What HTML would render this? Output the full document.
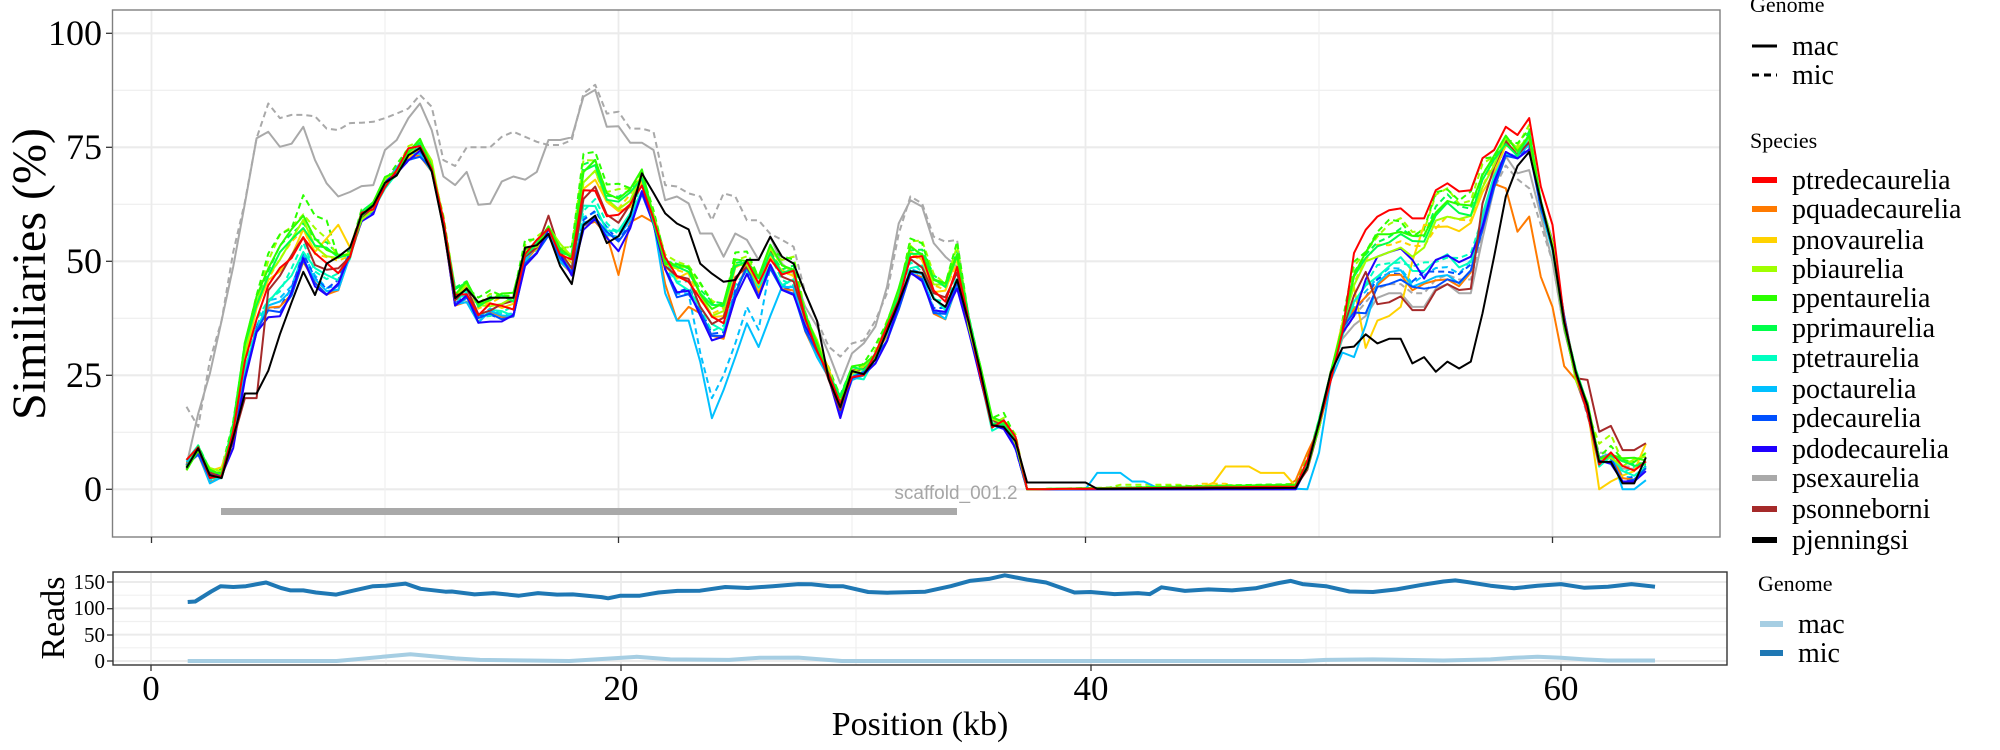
<!DOCTYPE html>
<html><head><meta charset="utf-8">
<style>
html,body{margin:0;padding:0;background:#fff;}
svg{display:block;}
text{font-family:"Liberation Serif",serif;fill:#000;}
</style></head>
<body>
<svg id="s" width="2000" height="750" viewBox="0 0 2000 750" xmlns="http://www.w3.org/2000/svg">
<rect width="2000" height="750" fill="#fff"/>
<g id="grid"></g>
<g id="series"></g>
<rect x="221" y="508" width="736" height="7" fill="#a9a9a9"/>
<text x="956" y="499" text-anchor="middle" style="font-family:'Liberation Sans',sans-serif;font-size:19px;fill:#a6a6a6">scaffold_001.2</text>
<rect x="112.5" y="10" width="1607.5" height="527" fill="none" stroke="#7f7f7f" stroke-width="1.4"/>
<g stroke="#333" stroke-width="1.3">
<line x1="106" x2="112" y1="33.3" y2="33.3"/><line x1="106" x2="112" y1="147.3" y2="147.3"/>
<line x1="106" x2="112" y1="261.3" y2="261.3"/><line x1="106" x2="112" y1="375.3" y2="375.3"/>
<line x1="106" x2="112" y1="489.3" y2="489.3"/>
<line x1="151.5" x2="151.5" y1="537" y2="543"/><line x1="618.5" x2="618.5" y1="537" y2="543"/>
<line x1="1085.5" x2="1085.5" y1="537" y2="543"/><line x1="1552.5" x2="1552.5" y1="537" y2="543"/>
</g>
<g style="font-family:'Liberation Serif',serif;font-size:36px" text-anchor="end">
<text x="102" y="45">100</text><text x="102" y="159">75</text><text x="102" y="273">50</text>
<text x="102" y="387">25</text><text x="102" y="501">0</text>
</g>
<text transform="translate(45,274) rotate(-90)" text-anchor="middle" style="font-family:'Liberation Serif',serif;font-size:48px">Similiaries (%)</text>

<!-- bottom panel -->
<g id="bgrid"></g>
<g id="bseries"></g>
<rect x="113" y="572" width="1614" height="93" fill="none" stroke="#333" stroke-width="1.4"/>
<g stroke="#333" stroke-width="1.3">
<line x1="107" x2="113" y1="582" y2="582"/><line x1="107" x2="113" y1="608.7" y2="608.7"/>
<line x1="107" x2="113" y1="635" y2="635"/><line x1="107" x2="113" y1="661" y2="661"/>
<line x1="151" x2="151" y1="665" y2="671"/><line x1="621" x2="621" y1="665" y2="671"/>
<line x1="1091" x2="1091" y1="665" y2="671"/><line x1="1561" x2="1561" y1="665" y2="671"/>
</g>
<g style="font-family:'Liberation Serif',serif;font-size:21px" text-anchor="end">
<text x="105" y="589">150</text><text x="105" y="615">100</text><text x="105" y="642">50</text><text x="105" y="668">0</text>
</g>
<text transform="translate(64,618) rotate(-90)" text-anchor="middle" style="font-family:'Liberation Serif',serif;font-size:34px">Reads</text>
<g style="font-family:'Liberation Serif',serif;font-size:35px" text-anchor="middle">
<text x="151" y="700">0</text><text x="621" y="700">20</text><text x="1091" y="700">40</text><text x="1561" y="700">60</text>
</g>
<text x="920" y="735" text-anchor="middle" style="font-family:'Liberation Serif',serif;font-size:34px">Position (kb)</text>

<!-- legends -->
<text x="1750" y="12" style="font-size:22px">Genome</text>
<line x1="1752" x2="1777" y1="46" y2="46" stroke="#000" stroke-width="3"/>
<line x1="1752" x2="1777" y1="75" y2="75" stroke="#000" stroke-width="3" stroke-dasharray="7,5"/>
<g style="font-size:28px"><text x="1792" y="55">mac</text><text x="1792" y="84">mic</text></g>
<text x="1750" y="148" style="font-size:22px">Species</text>
<g id="leg" style="font-size:28px"></g>
<text x="1758" y="591" style="font-size:22px">Genome</text>
<line x1="1760" x2="1783" y1="624" y2="624" stroke="#a6cee3" stroke-width="6"/>
<line x1="1760" x2="1783" y1="653" y2="653" stroke="#1f78b4" stroke-width="6"/>
<g style="font-size:28px"><text x="1798" y="633">mac</text><text x="1798" y="662">mic</text></g>
</svg>
<script>
(function(){
var NS="http://www.w3.org/2000/svg";
function el(p,t,a){var e=document.createElementNS(NS,t);for(var k in a)e.setAttribute(k,a[k]);p.appendChild(e);return e;}
var g=document.getElementById('grid'),sg=document.getElementById('series');
function X(k){return 151.5+23.35*k;} function Y(v){return 489.3-4.56*v;}
[12.5,37.5,62.5,87.5].forEach(function(v){el(g,'line',{x1:112.5,x2:1720,y1:Y(v),y2:Y(v),stroke:'#f0f0f0','stroke-width':1.4});});
[0,25,50,75,100].forEach(function(v){el(g,'line',{x1:112.5,x2:1720,y1:Y(v),y2:Y(v),stroke:'#ebebeb','stroke-width':2.2});});
[10,30,50].forEach(function(k){el(g,'line',{x1:X(k),x2:X(k),y1:10,y2:537,stroke:'#f0f0f0','stroke-width':1.2});});
[0,20,40,60].forEach(function(k){el(g,'line',{x1:X(k),x2:X(k),y1:10,y2:537,stroke:'#ebebeb','stroke-width':1.8});});
var bg=document.getElementById('bgrid');
function Xb(k){return 151+23.5*k;} function Yb(r){return 661-0.5267*r;}
[25,75,125].forEach(function(r){el(bg,'line',{x1:113,x2:1727,y1:Yb(r),y2:Yb(r),stroke:'#f0f0f0','stroke-width':1.2});});
[0,50,100,150].forEach(function(r){el(bg,'line',{x1:113,x2:1727,y1:Yb(r),y2:Yb(r),stroke:'#ebebeb','stroke-width':2});});
[10,30,50].forEach(function(k){el(bg,'line',{x1:Xb(k),x2:Xb(k),y1:572,y2:665,stroke:'#f0f0f0','stroke-width':1.2});});
[0,20,40,60].forEach(function(k){el(bg,'line',{x1:Xb(k),x2:Xb(k),y1:572,y2:665,stroke:'#ebebeb','stroke-width':1.8});});

var KB=[];for(var k=1.5;k<=64.001;k+=0.5)KB.push(Math.round(k*2)/2);
function interp(pts){return KB.map(function(k){
 if(k<=pts[0][0])return pts[0][1];
 for(var i=1;i<pts.length;i++){if(k<=pts[i][0]){var a=pts[i-1],b=pts[i];return a[1]+(b[1]-a[1])*(k-a[0])/(b[0]-a[0]);}}
 return pts[pts.length-1][1];});}
var L=interp([[1.5,5.3],[2,8.6],[2.5,2.4],[3,2.4],[3.5,10],[4,24.7],[4.5,34],[5,38],[5.5,39],[6,43],[6.5,49.5],[7,44.4],[7.5,43],[8,44.4],[8.5,51],[9,59.8],[9.5,61.2],[10,67],[10.5,69.3],[11,73],[11.5,74],[12,70],[12.5,57.6],[13,40.8],[13.5,42],[14,36],[14.5,37.8],[15,37.8],[15.5,37.8],[16,48.8],[16.5,52.5],[17,56.9],[17.5,50.3],[18,46.6],[18.5,57.6],[19,59],[19.5,54.7],[20,53.2],[20.5,58.3],[21,64.9],[21.5,57.6],[22,48.8],[22.5,43],[23,42.2],[23.5,37.8],[24,33.5],[24.5,33.5],[25,41.5],[25.5,48.1],[26,43],[26.5,48.8],[27,43],[27.5,43],[28,35.7],[28.5,29.8],[29,24],[29.5,16.6],[30,24.7],[30.5,24.7],[31,28.3],[31.5,33.5],[32,40],[32.5,46.6],[33,45.9],[33.5,39.3],[34,37.8],[34.5,43.7],[35,35.7],[35.5,24.7],[36,13.7],[36.5,13.7],[37,10],[37.5,0],[49,0],[49.5,5],[50,14],[50.5,25],[51,34],[51.5,38],[52,42],[52.5,44.4],[53,45.5],[53.5,46.5],[54,44.4],[54.5,45],[55,44.4],[55.5,45.5],[56,44.4],[56.5,46],[57,56],[57.5,67],[58,73.3],[58.5,72],[59,75],[59.5,62.7],[60,53.2],[60.5,37],[61,25],[61.5,17.4],[62,6],[62.5,6.5],[63,2.5],[63.5,2.5],[64,4]]);
var U=interp([[1.5,5.3],[2,8.6],[2.5,4],[3,4],[3.5,13.7],[4,31.3],[4.5,41.5],[5,48.8],[5.5,53.2],[6,56],[6.5,59.4],[7,55],[7.5,53],[8,51],[8.5,52],[9,60.5],[9.5,62],[10,67.5],[10.5,70],[11,74],[11.5,76],[12,71],[12.5,59],[13,43],[13.5,45],[14,41],[14.5,42],[15,42],[15.5,42],[16,53],[16.5,54],[17,57],[17.5,53],[18,52],[18.5,70],[19,71.5],[19.5,65],[20,64.2],[20.5,65],[21,69],[21.5,60],[22,50],[22.5,48.8],[23,48.8],[23.5,44],[24,40],[24.5,40],[25,50.3],[25.5,50.5],[26,45.9],[26.5,52.5],[27,49.5],[27.5,49],[28,38],[28.5,32],[29,26],[29.5,19.6],[30,26],[30.5,27],[31,30],[31.5,36],[32,43],[32.5,53.6],[33,52.5],[33.5,45.9],[34,45],[34.5,52.5],[35,37],[35.5,26],[36,15.2],[36.5,15.2],[37,11],[37.5,0],[49,1],[49.5,6],[50,14],[50.5,25],[51,36],[51.5,47.4],[52,50.9],[52.5,55],[53,56.5],[53.5,56.9],[54,55],[54.5,56],[55,62],[55.5,63.4],[56,61.6],[56.5,62.3],[57,69.3],[57.5,72.2],[58,76.6],[58.5,74.7],[59,78.2],[59.5,62.7],[60,53.2],[60.5,37],[61,25],[61.5,18],[62,6.5],[62.5,8],[63,6],[63.5,6],[64,7]]);
function make(t,seed,ov,amp){
 amp=amp===undefined?0.9:amp;
 var a=KB.map(function(k,i){var v=L[i]+(U[i]-L[i])*t;
   if(L[i]===0&&U[i]<=1)return Math.max(0,v);
   v+=amp*Math.sin(i*1.7+seed)+amp*0.5*Math.sin(i*0.6+seed*2);return Math.max(0,v);});
 if(ov){ov.forEach(function(p){var i=KB.indexOf(p[0]);if(i>=0)a[i]=p[1];});}
 return a;}
function draw(arr,color,dash,w){
 var pts=arr.map(function(v,i){return X(KB[i]).toFixed(1)+','+Y(v).toFixed(1);}).join(' ');
 var a={points:pts,fill:'none',stroke:color,'stroke-width':w||2,'stroke-linejoin':'round'};
 if(dash)a['stroke-dasharray']='6,4';
 el(sg,'polyline',a);}

var gray='#a9a9a9';
var graySolid=interp([[1.5,5.3],[2,16.6],[2.5,25.4],[3,37],[3.5,48.8],[4,62.7],[4.5,77],[5,78.4],[5.5,75.1],[6,75.8],[6.5,79.5],[7,72.2],[7.5,67.1],[8,64.2],[8.5,65.2],[9,66.5],[9.5,66.7],[10,74.4],[10.5,76.6],[11,81.4],[11.5,84.6],[12,78.8],[12.5,68.6],[13,66.7],[13.5,69.6],[14,62.4],[14.5,62.6],[15,67.5],[15.5,68.6],[16,67.9],[16.5,69.6],[17,76.6],[17.5,76.6],[18,77.2],[18.5,86.1],[19,87.6],[19.5,79.5],[20,79.6],[20.5,76],[21,76],[21.5,74.4],[22,63.4],[22.5,64.2],[23,62.7],[23.5,56.1],[24,56.1],[24.5,51],[25,56.1],[25.5,54.7],[26,50.3],[26.5,55.4],[27,49.5],[27.5,47.3],[28,40],[28.5,35.7],[29,29.8],[29.5,23.2],[30,29.8],[30.5,32],[31,35.7],[31.5,44.4],[32,58.3],[32.5,63.4],[33,62],[33.5,54],[34,51],[34.5,48.8],[35,36],[35.5,25],[36,14],[36.5,14],[37,10],[37.5,0],[49,0],[49.5,5],[50,14],[50.5,25],[51,33],[51.5,36],[52,38],[52.5,42],[53,43],[53.5,43],[54,40],[54.5,40],[55,44],[55.5,45],[56,43],[56.5,43],[57,55],[57.5,66],[58,73],[58.5,69.3],[59,70],[59.5,60],[60,50],[60.5,35],[61,25],[61.5,17],[62,7],[62.5,7],[63,4.5],[63.5,4.5],[64,6]]);
var grayDash=interp([[1.5,18.1],[2,13.7],[2.5,28.3],[3,37],[3.5,52],[4,63],[4.5,77],[5,84.6],[5.5,81.4],[6,82.1],[6.5,82.1],[7,81.8],[7.5,79.1],[8,78.8],[8.5,80.3],[9,80.4],[9.5,80.6],[10,81.4],[10.5,82.4],[11,83.5],[11.5,86.5],[12,83.9],[12.5,72.2],[13,70.9],[13.5,75],[14,75],[14.5,75],[15,77.3],[15.5,78.4],[16,77.3],[16.5,76.2],[17,75.5],[17.5,75.5],[18,76.6],[18.5,86.8],[19,88.7],[19.5,82.4],[20,82.8],[20.5,79.1],[21,79.1],[21.5,78.4],[22,66.7],[22.5,66.4],[23,64.9],[23.5,64.2],[24,59],[24.5,64.9],[25,64.2],[25.5,59],[26,59],[26.5,56],[27,54.7],[27.5,53.2],[28,43],[28.5,37],[29,31.3],[29.5,29.1],[30,32],[30.5,32.7],[31,37],[31.5,43],[32,56],[32.5,64.2],[33,62.7],[33.5,55.4],[34,54.3],[34.5,54.7],[35,36],[35.5,25],[36,14],[36.5,14],[37,10],[37.5,0],[49,0],[49.5,5],[50,14],[50.5,25],[51,34],[51.5,38],[52,41],[52.5,44],[53,45],[53.5,45],[54,43],[54.5,43],[55,46],[55.5,47],[56,46],[56.5,46],[57,56],[57.5,66],[58,71],[58.5,68],[59,66],[59.5,58],[60,50],[60.5,35],[61,25],[61.5,16],[62,8],[62.5,8],[63,5],[63.5,5],[64,6]]);
draw(grayDash,gray,true,2);
draw(graySolid,gray,false,2);

var red=make(0.6,1,[[51.5,51.8],[52,56.9],[52.5,59.8],[53,61.2],[53.5,61.6],[54,59.4],[54.5,59.4],[55,65.6],[55.5,67.1],[56,65.3],[56.5,65.6],[57,72.6],[57.5,74.4],[58,79.5],[58.5,77.7],[59,81.4],[59.5,66.4],[60,58]]);
var orange=make(0.05,2,[[20,47],[21,60],[22,45],[22.5,37],[23,40],[57,60],[57.5,67],[58,66],[58.5,56.5],[59,59.8],[59.5,46.6],[60,40],[60.5,27],[61,24],[49,2],[49.5,8]]);
var yellow=make(0.7,3,[[45.5,1.5],[46,5],[46.5,5],[47,5],[47.5,3.6],[48,3.6],[48.5,3.6],[52,31],[52.5,37],[53,38],[53.5,40],[54,50],[54.5,58],[62,0],[62.5,1.7],[63,3],[63.5,4],[64,10],[7.5,55],[8,58]]);
var pbi=make(0.85,4,[[52,50],[52.5,51],[53,52],[53.5,53],[54,51],[54.5,53]]);
var ppenta=make(1.0,5,[[6.5,60],[7,55],[7.5,52.5]]);
var pprim=make(0.9,6);
var ptetra=make(0.3,7);
var poct=make(0.1,8,[[22,43],[22.5,37],[23,37],[23.5,28],[24,15.6],[24.5,21.8],[25,29],[25.5,36.4],[26,31.2],[26.5,38],[27,44.4],[40.5,3.6],[41,3.6],[41.5,3.6],[42,1.7],[42.5,1.7],[43,0.5],[49.5,0],[50,8],[51,30],[51.5,29],[52,36],[63,0],[63.5,0],[64,2]]);
var pdeca=make(0.05,9,[[52,38.6],[52.5,44.4],[53,45],[53.5,46],[54,44.4],[54.5,44],[55,44.4]]);
var pdodeca=make(0,10,[[51.5,38],[52,46],[52.5,51],[53,52],[53.5,52.8],[54,50.3],[54.5,46.2],[55,50.3],[55.5,51.3],[56,49.8],[56.5,51],[57,57.6],[57.5,67.4],[63,1.7],[63.5,1.7],[64,4]]);
var brown=make(0.55,11,[[17,60],[52.5,40.6],[53,41],[53.5,42.3],[54,39.3],[54.5,39.3],[55,43.6],[55.5,45],[56,43.7],[56.5,44],[61.5,24],[62,12.6],[62.5,13.9],[63,8.6],[63.5,8.6],[64,10.1],[4,20],[4.5,20]]);
var black=make(0.3,12,[[4,21],[4.5,21],[5,26],[5.5,34],[6,41],[6.5,47.7],[7,42.6],[7.5,49.5],[8,51],[8.5,53],[13.5,44],[14,41],[14.5,42],[15,42],[15.5,42],[16,53],[16.5,53.5],[17,56],[17.5,49],[18,45],[18.5,58],[19,60],[19.5,54],[20,55.5],[20.5,60],[21,69.3],[21.5,65],[22,60.5],[22.5,58.3],[23,57],[23.5,49.5],[24,47.3],[24.5,45.5],[25,45.9],[25.5,50.3],[26,50.3],[26.5,55.4],[27,51],[27.5,49.5],[28,43],[28.5,37],[37.5,1.5],[38,1.5],[38.5,1.5],[39,1.5],[39.5,1.5],[40,1.5],[51,31],[51.5,31.3],[52,34],[52.5,32],[53,33],[53.5,33],[54,27.6],[54.5,29],[55,25.8],[55.5,28],[56,26.5],[56.5,28],[57,38.6],[57.5,51],[58,64.2],[58.5,70.9],[59,74],[62,6],[62.5,6],[63,1.3],[63.5,1.3],[64,7]],0.6);

draw(make(0.2,21,[[23.5,30],[24,20],[24.5,25],[25,32],[25.5,40],[26,35]]),'#00c0ff',true);
draw(make(0.15,22),'#0050ff',true);
draw(make(0.35,23),'#00ffc0',true);
draw(make(0.8,24,[[45,1.2],[45.5,1.2],[46,1.2]]),'#ffd200',true);
draw(make(1.0,25),'#00ff4a',true);
draw(make(1.12,26,[[41.5,1],[42,1],[42.5,1],[43,1],[43.5,1],[44,1],[62,10],[62.5,12],[63,6],[63.5,6],[64,8]]),'#a0ff00',true);
draw(make(1.15,27,[[18.5,73.6],[19,74],[6.5,64.5],[7,60],[7.5,59]]),'#2bff00',true);

draw(orange,'#ff7a00');draw(yellow,'#ffd200');draw(ptetra,'#00ffc0');draw(poct,'#00c0ff');
draw(pdeca,'#0050ff');draw(pdodeca,'#2000ff');draw(brown,'#a52a2a');
draw(pbi,'#a0ff00');draw(pprim,'#00ff4a');draw(ppenta,'#2bff00');draw(red,'#ff0000');
draw(black,'#000000');

var leg=document.getElementById('leg');
var names=[['ptredecaurelia','#ff0000'],['pquadecaurelia','#ff7a00'],['pnovaurelia','#ffd200'],['pbiaurelia','#a0ff00'],['ppentaurelia','#2bff00'],['pprimaurelia','#00ff4a'],['ptetraurelia','#00ffc0'],['poctaurelia','#00c0ff'],['pdecaurelia','#0050ff'],['pdodecaurelia','#2000ff'],['psexaurelia','#a9a9a9'],['psonneborni','#a52a2a'],['pjenningsi','#000000']];
var ys=[180,209,240,269,298,328,358,389,418,449,478,509,540];
names.forEach(function(n,i){el(leg,'line',{x1:1752,x2:1777,y1:ys[i],y2:ys[i],stroke:n[1],'stroke-width':6});
 var t=el(leg,'text',{x:1792,y:ys[i]+9});t.textContent=n[0];});

var bs=document.getElementById('bseries');
var mic=[[1.56,112],[1.88,113],[2.56,132],[2.96,142],[3.5,140.5],[4.04,142],[4.9,149],[5.53,138.6],[5.94,134],[6.48,134],[7.02,130],[7.88,126],[8.64,134],[9.45,142],[9.99,143],[10.83,147],[11.47,137],[12.53,131.6],[12.8,132],[13.77,126.5],[14.58,129],[15.66,124],[16.47,129],[17.28,126],[17.95,126.5],[19.17,121.4],[19.45,119],[19.98,124],[20.8,124],[21.6,130],[22.4,133],[23.36,133.5],[24.44,140.5],[25.4,138.6],[26.46,142],[27.55,146],[28.1,145.6],[28.9,142],[29.44,142],[30.52,131],[31.33,129.7],[32.95,131.6],[34.03,142],[34.84,152],[35.66,155.8],[36.33,162.7],[37.28,154.5],[38.09,149],[39.3,130],[39.98,131],[41,127],[42,129],[42.5,127],[43,140],[44,133],[45,136],[46,134],[47,138],[48,148],[48.5,152],[49,146],[50,142],[51,132],[52,131],[53,136],[54,144],[55,151],[55.5,153],[56,150],[57,143],[58,138],[59,143],[60,146],[61,139],[62,141],[63,146],[64,141]];
var mac=[[1.56,0],[7.9,0],[9.85,8],[11.04,12.7],[12.96,5],[14,2],[17.8,0],[19.45,4.5],[20.66,8],[22.1,3],[24.6,2],[25.9,6],[27.55,6.4],[29.4,0],[49,0],[50,2],[52,3],[55,1],[57,3],[58,6],[59,8],[60,6],[61,3],[62,1],[64,1]];
function dline(p,c){var s=p.map(function(q){return Xb(q[0]).toFixed(1)+','+Yb(q[1]).toFixed(1);}).join(' ');
 el(bs,'polyline',{points:s,fill:'none',stroke:c,'stroke-width':4,'stroke-linejoin':'round'});}
dline(mac,'#a6cee3');dline(mic,'#1f78b4');
})();
</script>
</body></html>
